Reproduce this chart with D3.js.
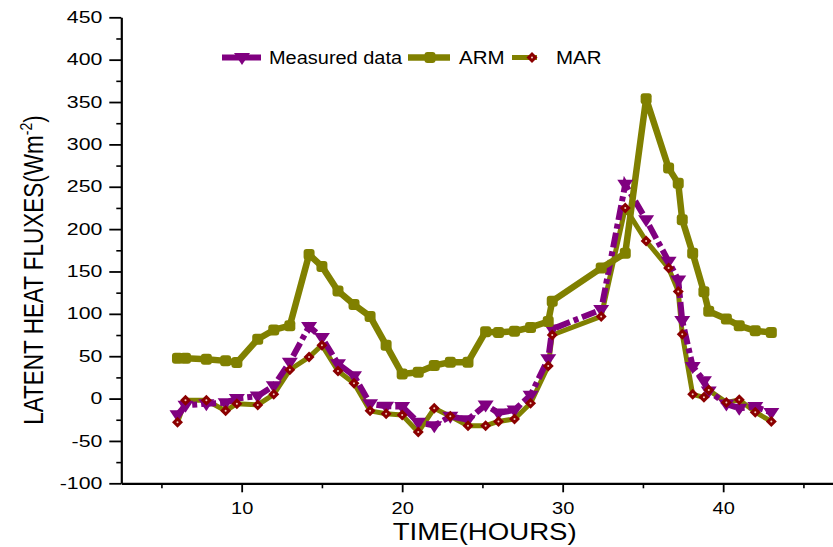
<!DOCTYPE html>
<html>
<head>
<meta charset="utf-8">
<script src="https://cdn.jsdelivr.net/npm/d3@7"></script>
<style>
  html, body { margin: 0; padding: 0; background: #ffffff; }
  svg { display: block; }
  text { font-family: "Liberation Sans", Arial, sans-serif; fill: #000; }
</style>
</head>
<body>
<svg id="chart" width="833" height="547"></svg>
<script>
// ---------------- data ----------------
const hours = [6, 6.5, 7.8, 9, 9.7, 11, 12, 13, 14.2, 15, 16, 17, 18, 19, 20, 21, 22, 23, 24.1, 25.2,
               26, 27, 28, 29.1, 29.35, 32.4, 33.9, 35.2, 36.6, 37.2, 37.45, 38.1, 38.8, 39.1, 40.2, 41, 42, 43];
const measured = [-19, -8, -6, -5, 0, 3, 15, 43, 85, 72, 41, 27, -6, -9, -9.5, -28, -32, -21, -25, -7.5,
                  -17, -13.5, 4, 47, 82, 105, 253, 211, 162, 140, 92, 38, 21, 9, -6.5, -11.5, -9.5, -16.5];
const arm = [47.5, 47.5, 46.5, 44.5, 42.5, 70, 81, 86, 170, 156, 127, 111, 97, 63, 29, 31, 39, 43, 43, 79,
             78, 79.5, 84, 91, 115, 154, 171.5, 354, 272, 254, 211, 171.5, 126, 103, 94, 86, 80, 78];
const mar = [-28, -2, -2, -14.5, -6, -7.5, 5, 34, 49, 63, 32.5, 18, -14.5, -18, -19.5, -39.5, -11.5, -21, -32, -32,
             -27, -24, -5.5, 38.5, 75, 97, 225, 186, 154, 126.5, 76, 5, 1.5, 10, -4.5, -1.5, -16, -27];
const seriesNames = ["Measured data", "ARM", "MAR"];
const xMajorTicks = [10, 20, 30, 40];
const xMinorTicks = [5, 15, 25, 35, 45];
const yMajorTicks = [-100, -50, 0, 50, 100, 150, 200, 250, 300, 350, 400, 450];
const yMinorTicks = [-75, -25, 25, 75, 125, 175, 225, 275, 325, 375, 425];
const xTitle = "TIME(HOURS)";
const yTitleMain = "LATENT HEAT FLUXES(Wm";
const yTitleSup = "-2";
const yTitleEnd = ")";

// ---------------- styles ----------------
const PURPLE = "#800080", OLIVE = "#808000", MAROON = "#8b0000";

const svg = d3.select("#chart");
const plotLeft = 121.3, plotTop = 17.3, plotBottom = 483.3;
const pxPerHour = 16.05;
const x = d3.scaleLinear().domain([2.5, 48]).range([plotLeft, plotLeft + 45.5 * pxPerHour]);
const y = d3.scaleLinear().domain([-100, 450]).range([plotBottom, plotTop]);
const plainFmt = d => String(d);

function stretch(sel, f) {
  sel.each(function () {
    const L = this.getComputedTextLength();
    d3.select(this).attr("textLength", L * f).attr("lengthAdjust", "spacingAndGlyphs");
  });
}

// ---------------- axes ----------------
const gy = svg.append("g").attr("transform", `translate(${plotLeft},0)`)
  .call(d3.axisLeft(y).tickValues(yMajorTicks).tickFormat(plainFmt).tickSize(12).tickSizeOuter(0).tickPadding(7));
gy.select(".domain").attr("stroke-width", 2.2);
gy.selectAll(".tick line").attr("stroke-width", 1.8);

const gy2 = svg.append("g").attr("transform", `translate(${plotLeft},0)`)
  .call(d3.axisLeft(y).tickValues(yMinorTicks).tickSize(5).tickSizeOuter(0).tickFormat(""));
gy2.select(".domain").remove();
gy2.selectAll(".tick line").attr("stroke-width", 1.6);

const gx = svg.append("g").attr("transform", `translate(0,${plotBottom})`)
  .call(d3.axisBottom(x).tickValues(xMajorTicks).tickFormat(plainFmt).tickSize(9).tickSizeOuter(0).tickPadding(10));
gx.select(".domain").attr("stroke-width", 2.2);
gx.selectAll(".tick line").attr("stroke-width", 1.8);

const gx2 = svg.append("g").attr("transform", `translate(0,${plotBottom})`)
  .call(d3.axisBottom(x).tickValues(xMinorTicks).tickSize(5).tickSizeOuter(0).tickFormat(""));
gx2.select(".domain").remove();
gx2.selectAll(".tick line").attr("stroke-width", 1.6);

svg.selectAll("g").attr("font-family", null).attr("font-size", null);
svg.selectAll(".tick text").style("font-size", "16px")
  .style("font-family", '"Liberation Sans", Arial, sans-serif');
stretch(gy.selectAll(".tick text"), 1.33);
stretch(gx.selectAll(".tick text"), 1.25);

// axis titles
const xt = svg.append("text").attr("x", 484.7).attr("y", 540).attr("text-anchor", "middle")
  .style("font-size", "24px").text(xTitle);
stretch(xt, 1.15);

const yt = svg.append("text")
  .attr("transform", "translate(43,270) scale(1.2,1) rotate(-90)")
  .attr("text-anchor", "middle")
  .style("font-size", "22.5px");
yt.append("tspan").text(yTitleMain);
yt.append("tspan").attr("dy", -9).style("font-size", "14px").text(yTitleSup);
yt.append("tspan").attr("dy", 9).text(yTitleEnd);

// ---------------- series ----------------
const data = hours.map((h, i) => ({ h, m: measured[i], a: arm[i], r: mar[i] }));
const lineOf = key => d3.line().x(d => x(d.h)).y(d => y(d[key]));

const triPath = "M-8,-4.5L8,-4.5L0,7.5Z";
const diaPath = "M0,-5.5L5.5,0L0,5.5L-5.5,0Z";

// MAR line
svg.append("path").datum(data).attr("d", lineOf("r"))
  .attr("fill", "none").attr("stroke", OLIVE).attr("stroke-width", 5)
  .attr("stroke-linejoin", "round");
// Measured line (dash-dot)
svg.append("path").datum(data).attr("d", lineOf("m"))
  .attr("fill", "none").attr("stroke", PURPLE).attr("stroke-width", 6)
  .attr("stroke-dasharray", "15,4,5,4");
// ARM line
svg.append("path").datum(data).attr("d", lineOf("a"))
  .attr("fill", "none").attr("stroke", OLIVE).attr("stroke-width", 6.5)
  .attr("stroke-linejoin", "round");

// markers
svg.append("g").selectAll("path").data(data).join("path")
  .attr("d", triPath).attr("transform", d => `translate(${x(d.h)},${y(d.m)})`)
  .attr("fill", PURPLE);
svg.append("g").selectAll("rect").data(data).join("rect")
  .attr("x", d => x(d.h) - 5.5).attr("y", d => y(d.a) - 5.5)
  .attr("width", 11).attr("height", 11).attr("rx", 3)
  .attr("fill", OLIVE);
svg.append("g").selectAll("path").data(data).join("path")
  .attr("d", diaPath).attr("transform", d => `translate(${x(d.h)},${y(d.r)})`)
  .attr("fill", MAROON);
svg.append("g").selectAll("circle").data(data).join("circle")
  .attr("cx", d => x(d.h)).attr("cy", d => y(d.r)).attr("r", 1)
  .attr("fill", "#f4d0c0");

// ---------------- legend ----------------
const ly = 57.5, lb = 63.5;
const lg = svg.append("g");
lg.append("line").attr("x1", 222).attr("x2", 261).attr("y1", ly).attr("y2", ly)
  .attr("stroke", PURPLE).attr("stroke-width", 6);
lg.append("path").attr("d", triPath).attr("transform", `translate(242,${ly})`).attr("fill", PURPLE);
const t1 = lg.append("text").attr("x", 269).attr("y", lb).style("font-size", "17.5px").text(seriesNames[0]);
stretch(t1, 1.14);

lg.append("line").attr("x1", 408).attr("x2", 450).attr("y1", ly).attr("y2", ly)
  .attr("stroke", OLIVE).attr("stroke-width", 6.5);
lg.append("rect").attr("x", 424.5).attr("y", ly - 5.5).attr("width", 11).attr("height", 11).attr("rx", 3).attr("fill", OLIVE);
const t2 = lg.append("text").attr("x", 459).attr("y", lb).style("font-size", "17.5px").text(seriesNames[1]);
stretch(t2, 1.17);

lg.append("line").attr("x1", 512).attr("x2", 537).attr("y1", ly).attr("y2", ly)
  .attr("stroke", OLIVE).attr("stroke-width", 5);
lg.append("path").attr("d", diaPath).attr("transform", `translate(532,${ly})`).attr("fill", MAROON);
lg.append("circle").attr("cx", 532).attr("cy", ly).attr("r", 1).attr("fill", "#f4d0c0");
const t3 = lg.append("text").attr("x", 556).attr("y", lb).style("font-size", "17.5px").text(seriesNames[2]);
stretch(t3, 1.17);
</script>
</body>
</html>
